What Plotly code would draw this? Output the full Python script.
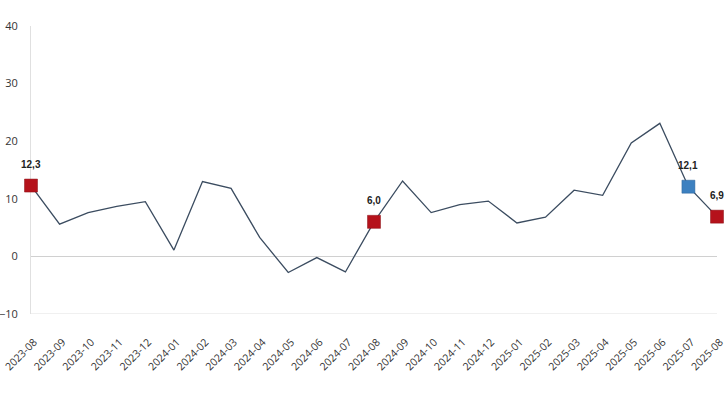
import plotly.graph_objects as go

# monthly series, 2023-08 .. 2025-08
months = ['2023-08', '2023-09', '2023-10', '2023-11', '2023-12',
          '2024-01', '2024-02', '2024-03', '2024-04', '2024-05', '2024-06', '2024-07',
          '2024-08', '2024-09', '2024-10', '2024-11', '2024-12',
          '2025-01', '2025-02', '2025-03', '2025-04', '2025-05', '2025-06', '2025-07',
          '2025-08']
values = [12.3, 5.6, 7.6, 8.7, 9.5,
          1.1, 13.0, 11.8, 3.3, -2.8, -0.2, -2.7,
          6.0, 13.1, 7.6, 9.0, 9.6,
          5.8, 6.8, 11.5, 10.6, 19.7, 23.1, 12.1,
          6.9]

# highlighted points
red_months = ['2023-08', '2024-08', '2025-08']
blue_months = ['2025-07']

idx = list(range(len(months)))
red_idx = [months.index(m) for m in red_months]
blue_idx = [months.index(m) for m in blue_months]

def label(v):
    return f"{v:.1f}".replace('.', ',')

fig = go.Figure()

fig.add_trace(go.Scatter(
    x=idx, y=values, mode='lines',
    line=dict(color='#3b4c60', width=1.3),
    hoverinfo='skip', showlegend=False,
))

for pts, fill, edge in [(red_idx, '#b5121b', '#8a0e14'), (blue_idx, '#3c80c0', '#2c6298')]:
    fig.add_trace(go.Scatter(
        x=pts, y=[values[i] for i in pts],
        mode='markers',
        marker=dict(symbol='square', size=13, color=fill,
                    line=dict(color=edge, width=0.5)),
        showlegend=False, cliponaxis=False,
    ))

# value labels above highlighted points
for i in red_idx + blue_idx:
    fig.add_annotation(
        x=i, y=values[i], text=label(values[i]), showarrow=False,
        yshift=21, font=dict(family='Liberation Sans', size=10, color='#222222', weight='bold'),
    )

fig.update_layout(
    width=728, height=410,
    margin=dict(l=31, r=11, t=26, b=96),
    paper_bgcolor='white', plot_bgcolor='white',
    font=dict(family='Open Sans', size=11, color='#333333'),
    xaxis=dict(
        range=[0, len(months) - 1],
        tickvals=idx, ticktext=months,
        tickangle=-45, showgrid=False, zeroline=False,
        showline=False, automargin=False,
        ticks='outside', ticklen=17, tickcolor='rgba(0,0,0,0)',
        ticklabeloverflow='allow', ticklabelshift=3,
        tickfont=dict(size=10.5, color='#333333'),
    ),
    yaxis=dict(
        range=[-10, 40], tickvals=[-10, 0, 10, 20, 30, 40],
        showgrid=False, zeroline=True, zerolinecolor='#d0d0d0', zerolinewidth=1.2,
        showline=True, linecolor='#e0e0e0', linewidth=1, ticks='',
        automargin=False, layer='below traces', ticklabelstandoff=10,
        ticklabeloverflow='allow',
        tickfont=dict(size=11, color='#333333'),
    ),
    shapes=[dict(type='line', xref='paper', yref='y', x0=0, x1=1, y0=-10, y1=-10,
                 layer='below', line=dict(color='#e0e0e0', width=1))],
)

fig.write_html("out.html", config={'displayModeBar': False},
               post_script="document.body.style.margin='0';")
